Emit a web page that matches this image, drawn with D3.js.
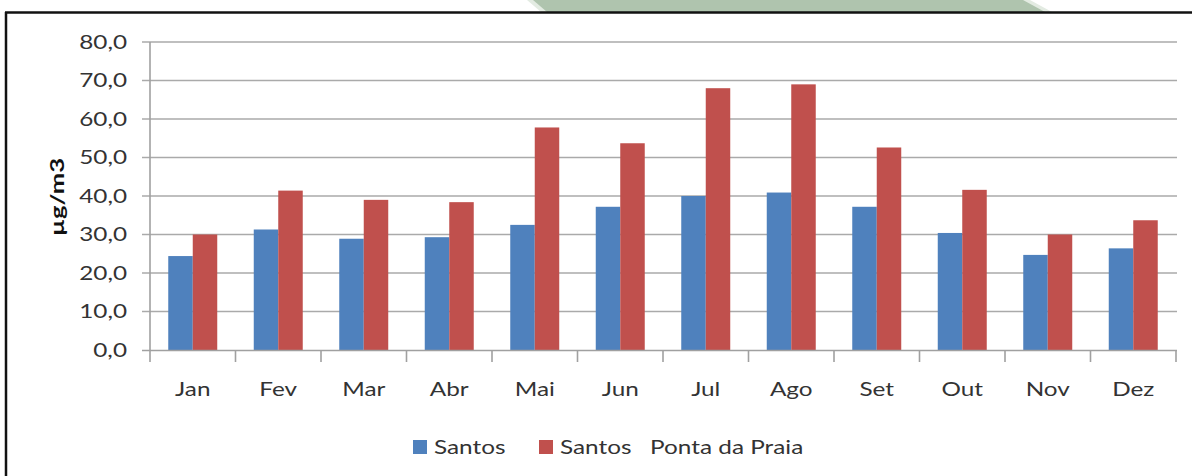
<!DOCTYPE html>
<html>
<head>
<meta charset="utf-8">
<script src="https://cdn.jsdelivr.net/npm/d3@7"></script>
<style>
  body { margin: 0; background: #fff; }
  svg { display: block; }
  text { font-family: Lato, "Open Sans", sans-serif; fill: #333; }
</style>
</head>
<body>
<script>
// data
var months = ["Jan", "Fev", "Mar", "Abr", "Mai", "Jun", "Jul", "Ago", "Set", "Out", "Nov", "Dez"];
var seriesNames = ["Santos", "Santos   Ponta da Praia"];
var santos = [24.4, 31.3, 28.9, 29.3, 32.5, 37.2, 40.0, 40.9, 37.2, 30.4, 24.7, 26.4];
var pontaPraia = [30.0, 41.4, 39.0, 38.4, 57.8, 53.7, 68.0, 69.0, 52.6, 41.6, 30.0, 33.7];
var yTicks = [0, 10, 20, 30, 40, 50, 60, 70, 80];
var colors = ["#4f81bd", "#c0504d"];

var W = 1192, H = 476, sx = 1.28;

var svg = d3.select("body").append("svg")
	.attr("width", W)
	.attr("height", H);

// green shape behind the frame at the top
svg.append("path")
	.attr("d", "M527,0 L1030,0 L1052,12 L541,12 Z")
	.attr("fill", "#e3ebe2");
svg.append("path")
	.attr("d", "M533,0 L1023,0 L1045,12 L547,12 Z")
	.attr("fill", "#afc4ae");

// frame
svg.append("line").attr("x1", 5).attr("x2", W).attr("y1", 12.5).attr("y2", 12.5)
	.attr("stroke", "#111").attr("stroke-width", 2.5);
svg.append("line").attr("x1", 6).attr("x2", 6).attr("y1", 12).attr("y2", H)
	.attr("stroke", "#111").attr("stroke-width", 2.5);

var plotLeft = 150, plotRight = 1176, plotTop = 42, plotBottom = 350;

var y = d3.scaleLinear().domain([0, 80]).range([plotBottom, plotTop]);
var x0 = d3.scaleBand().domain(months).range([plotLeft, plotRight])
	.paddingInner(0.427).paddingOuter(0.2135);
var xb = d3.scaleBand().domain(months).range([plotLeft, plotRight]);
var x1 = d3.scaleBand().domain(seriesNames).range([0, x0.bandwidth()]);

var g = svg.append("g");

// gridlines (they also form the y ticks)
g.append("g").selectAll("line")
	.data(yTicks.slice(1))
	.enter().append("line")
		.attr("x1", plotLeft - 8)
		.attr("x2", plotRight + 1)
		.attr("y1", function(d){return y(d);})
		.attr("y2", function(d){return y(d);})
		.attr("stroke", "#aaaaaa")
		.attr("stroke-width", 1.6);

// y labels
g.append("g").selectAll("text")
	.data(yTicks)
	.enter().append("text")
		.attr("transform", function(d){return "translate(127," + y(d) + ") scale(" + sx + ",1)";})
		.attr("dy", "0.35em")
		.attr("text-anchor", "end")
		.attr("font-size", 19)
		.text(function(d){return d3.format(".1f")(d).replace(".", ",");});

// bars
var series = [santos, pontaPraia];
var groups = g.append("g").selectAll("g")
	.data(series)
	.enter().append("g")
		.attr("fill", function(d, i){return colors[i];});

groups.selectAll("rect")
	.data(function(d, i){return d.map(function(v, j){return {s: i, m: months[j], v: v};});})
	.enter().append("rect")
		.attr("x", function(d){return x0(d.m) + x1(seriesNames[d.s]);})
		.attr("width", x1.bandwidth())
		.attr("y", function(d){return y(d.v);})
		.attr("height", function(d){return y(0) - y(d.v);});

// axes lines
g.append("line").attr("x1", plotLeft).attr("x2", plotLeft).attr("y1", plotTop).attr("y2", plotBottom)
	.attr("stroke", "#a0a0a0").attr("stroke-width", 1.6);
g.append("line").attr("x1", plotLeft - 8).attr("x2", plotRight + 1).attr("y1", plotBottom + 0.5).attr("y2", plotBottom + 0.5)
	.attr("stroke", "#a0a0a0").attr("stroke-width", 1.6);

// category ticks at band edges
var edges = months.map(function(m){return xb(m);}).concat([plotRight]);
g.append("g").selectAll("line")
	.data(edges)
	.enter().append("line")
		.attr("x1", function(d){return d;})
		.attr("x2", function(d){return d;})
		.attr("y1", plotBottom)
		.attr("y2", plotBottom + 12)
		.attr("stroke", "#a0a0a0")
		.attr("stroke-width", 1.6);

// category labels
g.append("g").selectAll("text")
	.data(months)
	.enter().append("text")
		.attr("transform", function(d){return "translate(" + (xb(d) + xb.bandwidth() / 2) + ",396) scale(" + sx + ",1)";})
		.attr("text-anchor", "middle")
		.attr("font-size", 19)
		.text(function(d){return d;});

// y title
svg.append("text")
	.attr("transform", "translate(64,197) rotate(-90) scale(1.35,1)")
	.attr("text-anchor", "middle")
	.attr("font-size", 19)
	.attr("font-weight", "bold")
	.style("fill", "#111")
	.text("µg/m3");

// legend
var legendX = [413, 539];
var legend = svg.append("g").selectAll("g")
	.data(seriesNames)
	.enter().append("g")
		.attr("transform", function(d, i){return "translate(" + legendX[i] + ",440)";});

legend.append("rect")
	.attr("width", 14)
	.attr("height", 14)
	.attr("fill", function(d, i){return colors[i];});

legend.append("text")
	.attr("transform", "translate(21,14) scale(" + sx + ",1)")
	.attr("font-size", 19)
	.attr("xml:space", "preserve")
	.style("white-space", "pre")
	.text(function(d){return d;});
</script>
</body>
</html>
